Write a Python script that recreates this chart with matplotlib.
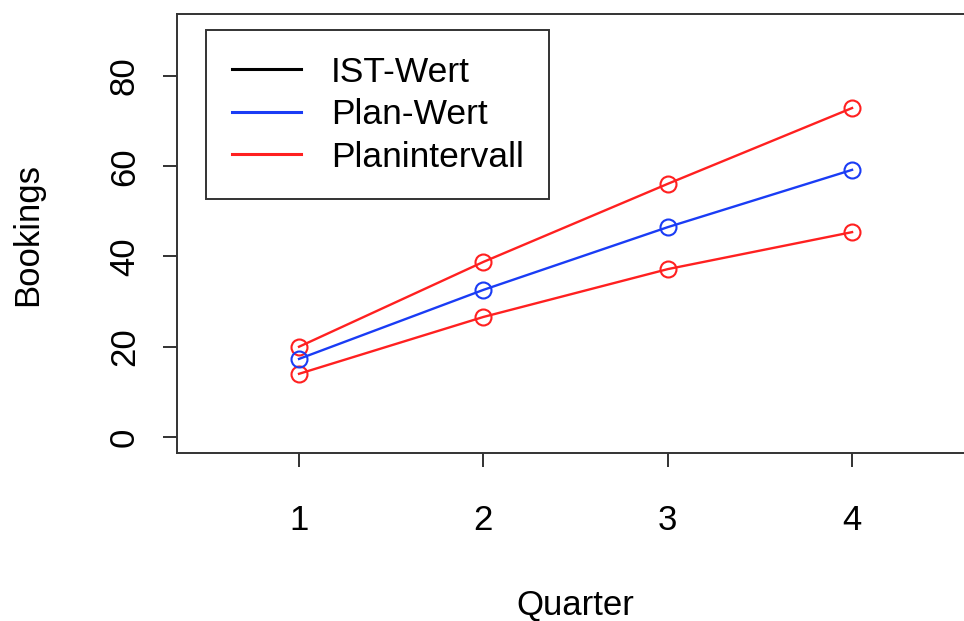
import matplotlib.pyplot as plt

plt.rcParams['font.family'] = ['Liberation Sans', 'DejaVu Sans']

quarter = [1, 2, 3, 4]
plan_wert = [17.3, 32.6, 46.5, 59.2]
plan_upper = [20.0, 38.8, 56.1, 72.9]
plan_lower = [14.0, 26.6, 37.2, 45.4]
ist_wert = []  # no actual values yet

fig = plt.figure(figsize=(9.64, 6.21), dpi=100)
# plot region runs past the right edge of the picture, like the original
ax = fig.add_axes([177 / 964, (621 - 453) / 621, 803 / 964, 439 / 621])

mk = dict(marker="o", markersize=11.5, markerfacecolor="none", markeredgewidth=1.5, linewidth=1.7)
ax.plot(quarter, plan_upper, color="#ff2020", **mk)
ax.plot(quarter, plan_lower, color="#ff2020", **mk)
ax.plot(quarter, plan_wert, color="#1a3cf5", **mk)

ax.set_xlim(0.338, 4.694)
ax.set_ylim(-3.55, 93.74)
ax.set_xticks(quarter)
ax.set_yticks([0, 20, 40, 60, 80])
ax.tick_params(axis="both", length=10, width=1.3, color="#222222", labelsize=25)
ax.tick_params(axis="x", pad=27)
ax.tick_params(axis="y", pad=16)
for lab in ax.get_yticklabels():
    lab.set_rotation(90)
    lab.set_va("center")
ax.spines["right"].set_visible(False)
for s in ["left", "bottom", "top"]:
    ax.spines[s].set_linewidth(1.4)
    ax.spines[s].set_color("#333333")

fig.text(575 / 964, 1 - 605 / 621, "Quarter", fontsize=25, ha="center", va="center")
fig.text(28 / 964, 1 - 235 / 621, "Bookings", fontsize=25, ha="center", va="center", rotation=90)

h1, = ax.plot(ist_wert, ist_wert, color="black", linewidth=2.2, label="IST-Wert")
h2, = ax.plot([], [], color="#1a3cf5", linewidth=2.2, label="Plan-Wert")
h3, = ax.plot([], [], color="#ff2020", linewidth=2.2, label="Planintervall")
leg = ax.legend(handles=[h1, h2, h3], loc="upper left",
                bbox_to_anchor=(206 / 964, 1 - 30 / 621), bbox_transform=fig.transFigure,
                fontsize=25.5, fancybox=False, edgecolor="#333333", framealpha=1,
                handlelength=1.95, handletextpad=0.85, labelspacing=0.27,
                borderpad=0.72, borderaxespad=0)
leg.get_frame().set_linewidth(1.4)

fig.savefig("out.png", dpi=100)
